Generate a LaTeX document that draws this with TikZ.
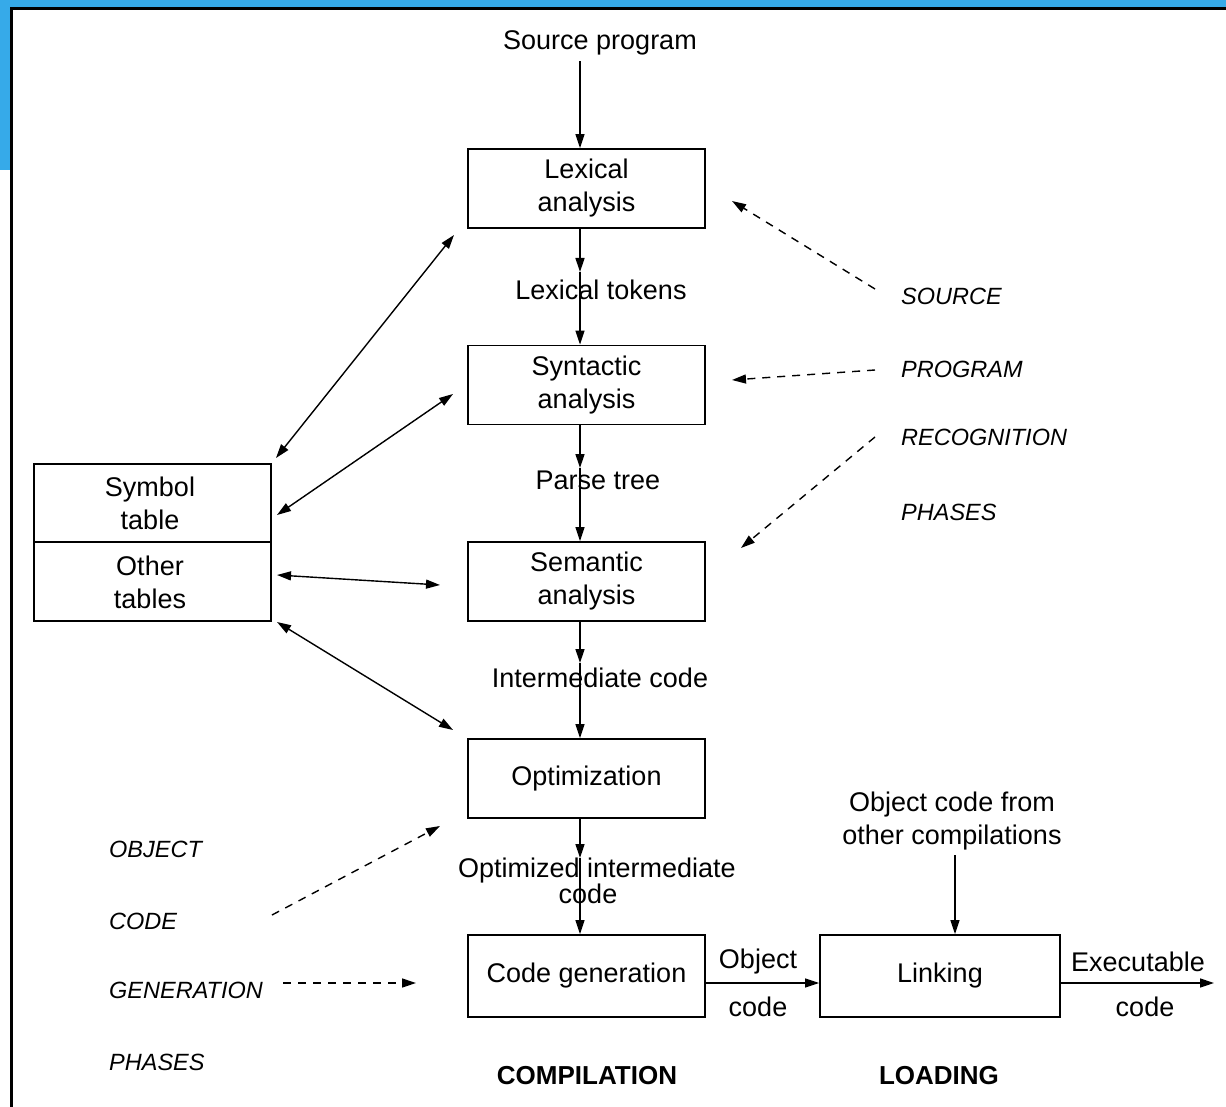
\documentclass[tikz,border=0pt]{standalone}
\usepackage{fontspec}
\setmainfont{Liberation Sans}
\usetikzlibrary{arrows.meta,calc}
\definecolor{hdrblue}{HTML}{36AAE9}
\begin{document}
\begin{tikzpicture}[x=1pt,y=-1pt,
 every node/.style={font=\fontsize{27}{33}\selectfont, inner sep=0pt},
 box/.style={draw,line width=1.8pt,minimum width=237pt,minimum height=79pt,align=center},
 cell/.style={minimum width=237pt,minimum height=79pt,align=center},
 phase/.style={font=\fontsize{23.5}{28}\selectfont\itshape,anchor=west},
 head/.style={font=\fontsize{26}{30}\selectfont\bfseries},
 conn/.style={line width=1.4pt,-{Triangle[length=14pt,width=9pt]}},
 dconn/.style={conn,dash pattern=on 8pt off 7pt},
 bconn/.style={line width=1.4pt,{Triangle[length=14pt,width=9pt]}-{Triangle[length=14pt,width=9pt]}}
]
\useasboundingbox (0,0) rectangle (1226,1107);
\fill[white] (0,0) rectangle (1226,1107);
% header strips
\fill[hdrblue] (0,0) rectangle (1226,8);
\fill[hdrblue] (0,0) rectangle (11,170);
\draw[line width=3pt] (11,1107) -- (11,8.5) -- (1226,8.5);

% boxes
\node[box] (lex) at (586.5,188.5) {Lexical\\analysis};
\node[box] (syn) at (586.5,385) {Syntactic\\analysis};
\node[box] (sem) at (586.5,581.5) {Semantic\\analysis};
\node[box] (opt) at (586.5,778.5) {Optimization};
\node[box,minimum height=82pt] (cg) at (586.5,976) {Code generation};
\node[box,minimum width=240pt,minimum height=82pt] (link) at (940,976) {Linking};
\node[cell,minimum height=78pt] (sym) at (150,503) {Symbol\\table};
\node[cell,minimum height=79pt,anchor=north] (oth) at (sym.south) {Other\\tables};
\draw[line width=1.8pt] (34,464) rectangle (271,621);
\draw[line width=1.8pt] (34,542) -- (271,542);

% labels
\node (src) at (600,43) {Source program};
\node (lt) at (601,290) {Lexical tokens};
\node (pt) at (598,480) {Parse tree};
\node (ic) at (600,678) {Intermediate code};
\node (oic1) at (597,871) {Optimized intermediate};
\node (oic2) at (588,894) {code};
\node (oc1) at (758,962) {Object};
\node (oc2) at (758,1007) {code};
\node (ex1) at (1138,962) {Executable};
\node (ex2) at (1145,1007) {code};
\node[align=center] (ocf) at (952,821) {Object code from\\other compilations};
\node[head] (comp) at (587,1076) {COMPILATION};
\node[head] (load) at (939,1076) {LOADING};

\node[phase] (ps1) at (901,296) {SOURCE};
\node[phase] (ps2) at (901,369) {PROGRAM};
\node[phase] (ps3) at (901,437) {RECOGNITION};
\node[phase] (ps4) at (901,512) {PHASES};
\node[phase] (pg1) at (109,849) {OBJECT};
\node[phase] (pg2) at (109,921) {CODE};
\node[phase] (pg3) at (109,990) {GENERATION};
\node[phase] (pg4) at (109,1062) {PHASES};

% main flow
\coordinate (cx) at (580,0);
\coordinate (lx) at (955,0);
\coordinate (t1) at (580,272);
\coordinate (t2) at (580,468);
\coordinate (t3) at (580,663);
\coordinate (t4) at (580,858);
\draw[conn,shorten <=6pt] (src.south -| cx) -- (lex.north -| cx);
\draw[conn] (lex.south -| cx) -- (t1);
\draw[conn] (t1) -- (syn.north -| cx);
\draw[conn] (syn.south -| cx) -- (t2);
\draw[conn] (t2) -- (sem.north -| cx);
\draw[conn] (sem.south -| cx) -- (t3);
\draw[conn] (t3) -- (opt.north -| cx);
\draw[conn] (opt.south -| cx) -- (t4);
\draw[conn] (t4) -- (cg.north -| cx);
\draw[conn] ([yshift=-7pt]cg.east) -- ([yshift=-7pt]link.west);
\coordinate (exend) at (1214,983);
\draw[conn] ([yshift=-7pt]link.east) -- (exend);
\draw[conn,shorten <=5pt] (ocf.south -| lx) -- (link.north -| lx);

% table connectors
\coordinate (a1) at (276,458); \coordinate (b1) at (454,235);
\coordinate (a2) at (277,515); \coordinate (b2) at (453,394);
\coordinate (a3) at (277,575); \coordinate (b3) at (440,585);
\coordinate (a4) at (277,622); \coordinate (b4) at (453,730);
\draw[bconn] (a1) -- (b1);
\draw[bconn] (a2) -- (b2);
\draw[bconn] (a3) -- (b3);
\draw[bconn] (a4) -- (b4);

% dashed phase pointers
\coordinate (d1s) at (875,289); \coordinate (d1e) at (732,201);
\coordinate (d2s) at (875,370); \coordinate (d2e) at (732,380);
\coordinate (d3s) at (875,437); \coordinate (d3e) at (741,548);
\coordinate (d4s) at (272,915); \coordinate (d4e) at (440,826);
\coordinate (d5s) at (283,983); \coordinate (d5e) at (416,983);
\draw[dconn] (d1s) -- (d1e);
\draw[dconn] (d2s) -- (d2e);
\draw[dconn] (d3s) -- (d3e);
\draw[dconn] (d4s) -- (d4e);
\draw[dconn] (d5s) -- (d5e);
\end{tikzpicture}
\end{document}
